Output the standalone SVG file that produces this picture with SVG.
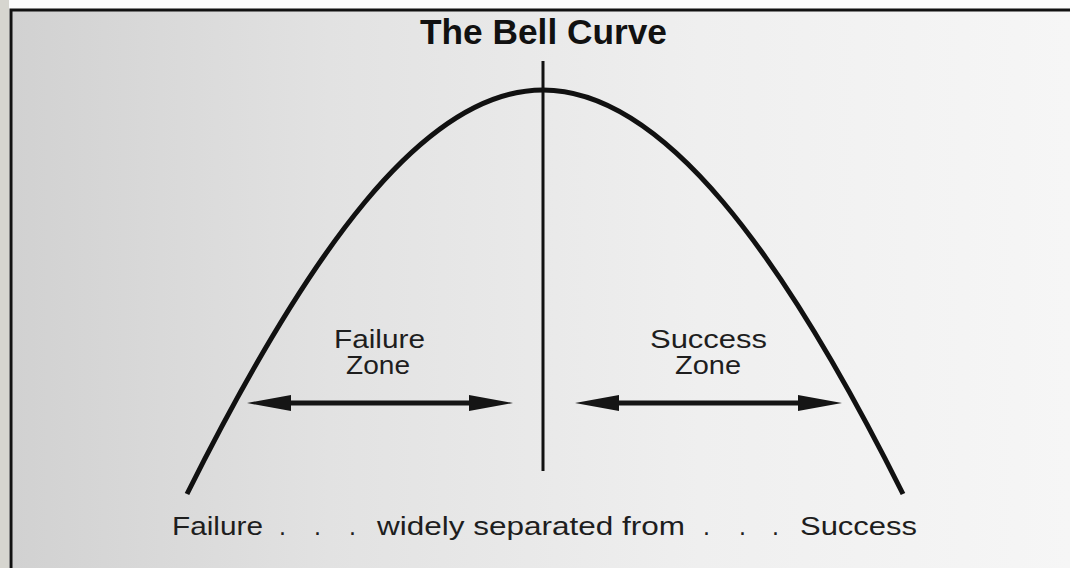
<svg xmlns="http://www.w3.org/2000/svg" width="1070" height="568" viewBox="0 0 1070 568">
  <defs>
    <linearGradient id="paper" x1="0" y1="0" x2="1" y2="0">
      <stop offset="0" stop-color="#d1d1d1"/>
      <stop offset="0.3" stop-color="#e2e2e2"/>
      <stop offset="0.65" stop-color="#efefef"/>
      <stop offset="1" stop-color="#f6f6f6"/>
    </linearGradient>
    <marker id="head" viewBox="0 0 44 18" markerWidth="44" markerHeight="18" refX="4" refY="9" orient="auto-start-reverse" markerUnits="userSpaceOnUse">
      <path d="M0,1 L44,9 L0,17 Z" fill="#151515"/>
    </marker>
    <style>
      .lbl { font-family: "Liberation Sans", Arial, sans-serif; font-size: 25px; fill: #1e1e1e; }
      .title { font-family: "Liberation Sans", Arial, sans-serif; font-weight: bold; font-size: 35px; fill: #111; }
      .arrow { stroke: #151515; stroke-width: 5; fill: none; marker-start: url(#head); marker-end: url(#head); }
      .curve { stroke: #111; stroke-width: 5; fill: none; stroke-linecap: butt; }
    </style>
  </defs>

  <rect x="0" y="0" width="1070" height="568" fill="#fbfbfb"/>
  <rect x="0" y="0" width="9" height="568" fill="#d6d5cf"/>
  <rect x="11" y="10" width="1059" height="558" fill="url(#paper)"/>
  <path d="M11,568 L11,10 L1070,10" stroke="#111" stroke-width="3" fill="none"/>

  <g id="title">
    <text class="title" x="420" y="44" textLength="247" lengthAdjust="spacingAndGlyphs">The Bell Curve</text>
  </g>

  <g id="bell-curve">
    <path class="curve" d="M187,494 C307,254 423,90 543,90 C663,90 783,254 903,494"/>
  </g>

  <g id="divider">
    <line x1="543" y1="61" x2="543" y2="471" stroke="#111" stroke-width="3"/>
  </g>

  <g id="failure-zone">
    <text class="lbl" x="334" y="348" textLength="91" lengthAdjust="spacingAndGlyphs">Failure</text>
    <text class="lbl" x="346" y="374" textLength="64" lengthAdjust="spacingAndGlyphs">Zone</text>
  </g>

  <g id="success-zone">
    <text class="lbl" x="650" y="348" textLength="117" lengthAdjust="spacingAndGlyphs">Success</text>
    <text class="lbl" x="675" y="374" textLength="66" lengthAdjust="spacingAndGlyphs">Zone</text>
  </g>

  <g id="connectors">
    <line class="arrow" x1="287" y1="403" x2="473" y2="403"/>
    <line class="arrow" x1="615" y1="403" x2="802" y2="403"/>
  </g>

  <g id="caption">
    <text class="lbl" x="172" y="535" textLength="91" lengthAdjust="spacingAndGlyphs">Failure</text>
    <text class="lbl" x="279" y="535">.</text>
    <text class="lbl" x="314" y="535">.</text>
    <text class="lbl" x="349" y="535">.</text>
    <text class="lbl" x="377" y="535" textLength="308" lengthAdjust="spacingAndGlyphs">widely separated from</text>
    <text class="lbl" x="703" y="535">.</text>
    <text class="lbl" x="739" y="535">.</text>
    <text class="lbl" x="772" y="535">.</text>
    <text class="lbl" x="800" y="535" textLength="117" lengthAdjust="spacingAndGlyphs">Success</text>
  </g>
</svg>
